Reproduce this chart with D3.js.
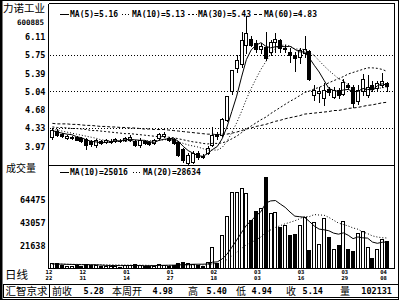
<!DOCTYPE html>
<html>
<head>
<meta charset="utf-8">
<script src="https://cdn.jsdelivr.net/npm/d3@7"></script>
<style>
  body { margin: 0; background: #fff; }
  svg { display: block; }
</style>
</head>
<body>
<div id="chart"></div>
<script>

// trading days shown on the daily chart
var dates = ['12/22','12/23','12/24','12/27','12/28','12/29','12/30','12/31',
	'01/04','01/05','01/06','01/07','01/10','01/11','01/12','01/13','01/14','01/17','01/18','01/19',
	'01/20','01/21','01/24','01/25','01/26','01/27','01/28','01/31',
	'02/01','02/02','02/03','02/04','02/16','02/17','02/18','02/21','02/22','02/23','02/24','02/25','02/28',
	'03/01','03/02','03/03','03/04','03/07','03/08','03/09','03/10','03/11','03/14','03/15','03/16','03/17',
	'03/18','03/21','03/22','03/23','03/24','03/25','03/28','03/29','03/30','03/31',
	'04/01','04/04','04/05','04/06','04/07','04/08'];

var dateLabels = ['12/22','12/31','01/14','01/27','02/18','03/03','03/16','03/29','04/08'];

var opens = [4.16,4.28,4.22,4.14,4.13,4.16,4.13,4.11,4.07,3.99,
	4.08,4.06,4.06,4.07,4.08,4.09,4.10,4.07,4.00,4.08,
	4.06,4.03,4.14,4.17,4.13,4.11,4.06,3.92,3.64,3.67,
	3.84,3.78,3.85,3.99,4.22,4.20,4.49,5.04,5.50,5.58,
	5.94,6.07,5.98,5.86,5.91,5.81,6.01,6.04,5.86,5.81,
	5.75,5.72,5.78,5.83,4.97,5.01,4.91,5.08,4.94,5.07,
	5.00,5.17,5.13,4.85,5.04,4.98,5.16,5.10,5.17,5.20];

var highs = [4.33,4.31,4.24,4.19,4.18,4.18,4.15,4.13,4.09,4.12,
	4.10,4.12,4.11,4.13,4.11,4.16,4.19,4.09,4.14,4.10,
	4.08,4.11,4.24,4.25,4.16,4.13,4.08,3.94,3.84,3.88,
	3.88,3.82,3.98,4.35,4.26,4.53,4.95,5.45,5.75,6.20,
	6.51,6.11,6.05,5.98,6.20,6.04,6.18,6.07,5.95,5.88,
	5.81,5.88,6.11,5.85,5.17,5.13,5.20,5.12,5.13,5.10,
	5.28,5.20,5.16,5.16,5.38,5.36,5.24,5.25,5.40,5.23];

var lows = [4.12,4.17,4.15,4.12,4.11,4.09,4.06,3.92,3.97,3.96,
	4.02,4.04,4.04,4.05,4.05,4.07,4.08,3.97,3.96,4.02,
	3.99,4.01,4.12,4.15,4.08,4.01,3.78,3.67,3.62,3.64,
	3.73,3.75,3.83,3.97,4.12,4.18,4.47,5.00,5.42,5.52,
	5.78,5.92,5.80,5.78,5.65,5.75,5.80,5.81,5.80,5.61,
	5.43,5.59,5.72,5.27,4.87,4.84,4.78,4.98,4.91,4.92,
	4.97,5.08,4.74,4.80,4.98,4.94,5.05,5.07,5.12,5.04];

var closes = [4.29,4.19,4.17,4.17,4.16,4.10,4.08,3.99,4.02,4.09,
	4.04,4.10,4.07,4.11,4.08,4.14,4.16,3.99,4.10,4.04,
	4.01,4.09,4.21,4.21,4.10,4.03,3.80,3.71,3.80,3.85,
	3.77,3.77,3.95,4.19,4.17,4.50,4.95,5.45,5.66,6.05,
	6.17,5.94,5.86,5.92,5.70,6.01,6.07,5.88,5.88,5.75,
	5.70,5.85,5.86,5.28,5.07,5.04,5.07,5.03,5.07,4.97,
	5.22,5.12,4.81,5.07,5.28,5.12,5.09,5.20,5.25,5.14];

var volumes = [5200,4800,3100,2600,2200,3000,2800,4100,3600,3300,
	2500,2100,1900,2400,1800,2900,3400,3800,3500,2300,
	2600,2400,3900,3200,2700,3400,5600,6300,5100,4400,
	3300,2500,5800,20200,5200,31500,49300,72100,71800,75600,
	71200,45500,54300,56800,85900,52100,53000,39200,40800,31500,
	32400,40400,48740,17400,43500,23000,47000,29900,18300,21880,
	44400,18300,16630,33500,35200,20200,10100,18300,27731,25800];

var ma5 = [4.28,4.25,4.23,4.21,4.20,4.16,4.14,4.10,4.07,4.06,
	4.04,4.05,4.06,4.08,4.08,4.10,4.11,4.10,4.09,4.09,
	4.06,4.05,4.09,4.11,4.12,4.13,4.07,3.97,3.89,3.84,
	3.79,3.78,3.83,3.91,3.97,4.12,4.35,4.65,4.95,5.32,
	5.66,5.85,5.94,5.99,5.92,5.89,5.91,5.92,5.91,5.92,
	5.86,5.81,5.81,5.69,5.55,5.42,5.26,5.10,5.06,5.04,
	5.07,5.08,5.04,5.04,5.10,5.08,5.07,5.15,5.19,5.16];

var ma10 = [4.30,4.29,4.27,4.25,4.23,4.21,4.19,4.17,4.15,4.13,
	4.10,4.09,4.08,4.08,4.07,4.07,4.08,4.08,4.09,4.08,
	4.08,4.08,4.09,4.10,4.11,4.09,4.06,4.03,4.00,3.98,
	3.96,3.93,3.90,3.90,3.90,3.95,4.07,4.24,4.43,4.65,
	4.89,5.10,5.29,5.47,5.62,5.77,5.88,5.93,5.95,5.92,
	5.87,5.86,5.86,5.80,5.74,5.64,5.54,5.45,5.37,5.29,
	5.25,5.17,5.07,5.05,5.07,5.08,5.08,5.10,5.11,5.13];

var ma30 = [4.35,4.34,4.34,4.33,4.32,4.32,4.31,4.30,4.28,4.28,
	4.27,4.26,4.25,4.24,4.23,4.22,4.22,4.21,4.20,4.19,
	4.18,4.17,4.16,4.16,4.15,4.14,4.12,4.10,4.08,4.06,
	4.05,4.03,4.02,4.03,4.03,4.04,4.07,4.12,4.17,4.24,
	4.31,4.37,4.43,4.49,4.54,4.61,4.67,4.73,4.79,4.85,
	4.90,4.96,5.02,5.05,5.09,5.12,5.16,5.21,5.25,5.29,
	5.33,5.38,5.41,5.44,5.47,5.50,5.50,5.49,5.47,5.43];

var ma60 = [4.42,4.41,4.41,4.41,4.40,4.40,4.39,4.38,4.38,4.37,
	4.36,4.36,4.35,4.35,4.34,4.34,4.33,4.33,4.32,4.31,
	4.31,4.30,4.30,4.30,4.29,4.28,4.27,4.26,4.25,4.24,
	4.23,4.22,4.21,4.21,4.20,4.21,4.21,4.23,4.25,4.28,
	4.31,4.33,4.36,4.38,4.40,4.43,4.46,4.48,4.51,4.53,
	4.55,4.57,4.60,4.61,4.62,4.63,4.64,4.65,4.67,4.67,
	4.69,4.71,4.72,4.73,4.75,4.77,4.78,4.80,4.82,4.83];

var volMa10 = [4300,4200,4100,3900,3800,3700,3600,3600,3500,3470,
	3200,2930,2810,2790,2750,2740,2800,2770,2760,2660,
	2670,2700,2900,2980,3070,3120,3340,3590,3750,3960,
	4030,4040,4230,5930,6180,8990,13360,19940,26610,33730,
	40520,44820,49670,53330,61400,63460,63830,60540,57440,53030,
	49150,48640,48080,44140,39900,36990,36390,35460,33210,32250,
	33450,31240,28030,29640,28810,28530,24840,23680,24620,25016];

var volMa20 = [4200,4150,4100,4000,3950,3900,3800,3750,3700,3650,
	3550,3500,3450,3400,3350,3300,3250,3200,3120,3065,
	2935,2815,2855,2885,2910,2930,3070,3180,3255,3310,
	3350,3370,3565,4455,4625,6055,8350,11765,15180,18845,
	22275,24430,26950,29630,33790,36225,38595,40240,42025,43380,
	44835,46730,48877,48737,50652,50227,50112,48002,45327,42641,
	41301,39941,38058,36893,34358,32763,30618,29573,28919,28634];

var priceTicks = [3.97, 4.33, 4.68, 5.04, 5.39, 5.75, 6.11];
var priceGrid = [4.33, 5.04, 5.75];
var volumeTicks = [21638, 43057, 64475];

var priceLegend = [
	{ text: 'MA(5)=5.16',  dash: null,  x: 60 },
	{ text: 'MA(10)=5.13', dash: '1,2', x: 122 },
	{ text: 'MA(30)=5.43', dash: '2,2', x: 188 },
	{ text: 'MA(60)=4.83', dash: '3,2', x: 254 }
];
var volumeLegend = [
	{ text: 'MA(10)=25016', dash: null,  x: 60 },
	{ text: 'MA(20)=28634', dash: '1,2', x: 133 }
];

var footer = [
	{ text: '前收',   x: 52,  anchor: 'start', cjk: true },
	{ text: '5.28',   x: 104, anchor: 'end' },
	{ text: '本周开', x: 112, anchor: 'start', cjk: true },
	{ text: '4.98',   x: 173, anchor: 'end' },
	{ text: '高',     x: 188, anchor: 'start', cjk: true },
	{ text: '5.40',   x: 227, anchor: 'end' },
	{ text: '低',     x: 236, anchor: 'start', cjk: true },
	{ text: '4.94',   x: 272, anchor: 'end' },
	{ text: '收',     x: 286, anchor: 'start', cjk: true },
	{ text: '5.14',   x: 323, anchor: 'end' },
	{ text: '量',     x: 340, anchor: 'start', cjk: true },
	{ text: '102131', x: 392, anchor: 'end' }
];


var width = 400, height = 300;
var left = 48.5, right = 394.5;
var priceTop = 3.5, priceBottom = 165.5, volBottom = 268.5;
var mono = '"DejaVu Sans Mono", monospace';
var cjk = '"Noto Sans CJK SC", sans-serif';

var svg = d3.select('#chart')
	.append('svg')
	.attr('width', width)
	.attr('height', height);

var x = d3.scalePoint()
	.domain(dates)
	.range([52.4, 387]);

var yPrice = d3.scaleLinear()
	.domain([3.61, 6.742])
	.range([165, 4]);

var yVol = d3.scaleLinear()
	.domain([0, 97200])
	.range([268.5, 165]);

var px = function (d) { return Math.round(x(d)); };

// frame
svg.append('rect')
	.attr('x', 0).attr('y', 0)
	.attr('width', 2.5).attr('height', height)
	.attr('fill', '#000');

var frame = [
	[0, 0.5, 399, 0.5],
	[398.5, 0, 398.5, 300],
	[0, 299.5, 399, 299.5],
	[left, priceTop, right, priceTop],
	[left, priceTop, left, volBottom],
	[right, priceTop, right, volBottom],
	[left, priceBottom, right, priceBottom],
	[left, volBottom, right, volBottom],
	[3, 284.5, 398.5, 284.5],
	[3, 297.5, 398.5, 297.5],
	[3.5, 284.5, 3.5, 297.5],
	[49.5, 284.5, 49.5, 297.5]
];

svg.append('g')
	.selectAll('line')
	.data(frame)
	.join('line')
	.attr('x1', function (d) { return d[0]; })
	.attr('y1', function (d) { return d[1]; })
	.attr('x2', function (d) { return d[2]; })
	.attr('y2', function (d) { return d[3]; })
	.attr('stroke', '#000')
	.attr('stroke-width', 1)
	.attr('shape-rendering', 'crispEdges');

// price grid
svg.append('g')
	.selectAll('line')
	.data(priceGrid)
	.join('line')
	.attr('x1', left + 1)
	.attr('x2', right - 1)
	.attr('y1', function (d) { return Math.round(yPrice(d)) + 0.5; })
	.attr('y2', function (d) { return Math.round(yPrice(d)) + 0.5; })
	.attr('stroke', '#000')
	.attr('stroke-dasharray', '1,2')
	.attr('shape-rendering', 'crispEdges');

// price axis labels
var priceAxis = d3.axisLeft(yPrice)
	.tickValues(priceTicks)
	.tickSize(0)
	.tickPadding(3)
	.tickFormat(d3.format('.2f'));

svg.append('g')
	.attr('transform', 'translate(' + left + ',0)')
	.call(priceAxis)
	.call(function (g) { g.select('.domain').remove(); })
	.selectAll('text')
	.attr('font-family', mono)
	.attr('font-weight', 'bold')
	.attr('font-size', '8.5px')
	.attr('fill', '#000');

// volume axis labels
var volAxis = d3.axisLeft(yVol)
	.tickValues(volumeTicks)
	.tickSize(0)
	.tickPadding(3)
	.tickFormat(d3.format('d'));

svg.append('g')
	.attr('transform', 'translate(' + left + ',0)')
	.call(volAxis)
	.call(function (g) { g.select('.domain').remove(); })
	.selectAll('text')
	.attr('font-family', mono)
	.attr('font-weight', 'bold')
	.attr('font-size', '8.5px')
	.attr('fill', '#000');

// clip areas
var defs = svg.append('defs');
defs.append('clipPath').attr('id', 'clip-price')
	.append('rect')
	.attr('x', left + 0.5).attr('y', priceTop + 0.5)
	.attr('width', right - left - 1).attr('height', priceBottom - priceTop - 1);
defs.append('clipPath').attr('id', 'clip-vol')
	.append('rect')
	.attr('x', left + 0.5).attr('y', priceBottom + 0.5)
	.attr('width', right - left - 1).attr('height', volBottom - priceBottom - 1);

var pricePanel = svg.append('g').attr('clip-path', 'url(#clip-price)');
var volPanel = svg.append('g').attr('clip-path', 'url(#clip-vol)');

// candles
var candles = pricePanel.append('g')
	.selectAll('g')
	.data(dates)
	.join('g');

candles.append('line')
	.attr('x1', function (d) { return px(d) + 0.5; })
	.attr('x2', function (d) { return px(d) + 0.5; })
	.attr('y1', function (d, i) { return Math.round(yPrice(highs[i])); })
	.attr('y2', function (d, i) { return Math.round(yPrice(lows[i])) + 1; })
	.attr('stroke', '#000')
	.attr('shape-rendering', 'crispEdges');

candles.append('rect')
	.attr('x', function (d) { return px(d) - 1.5; })
	.attr('y', function (d, i) { return Math.round(yPrice(Math.max(opens[i], closes[i]))) + 0.5; })
	.attr('width', 3)
	.attr('height', function (d, i) {
		var h = Math.round(yPrice(Math.min(opens[i], closes[i]))) - Math.round(yPrice(Math.max(opens[i], closes[i])));
		return Math.max(h, 0.01);
	})
	.attr('fill', function (d, i) { return closes[i] >= opens[i] ? '#fff' : '#000'; })
	.attr('stroke', '#000')
	.attr('shape-rendering', 'crispEdges');

// moving averages
var priceLine = function (values) {
	return d3.line()
		.x(function (d, i) { return x(dates[i]); })
		.y(function (d) { return yPrice(d); })(values);
};

var maSeries = [
	{ values: ma60, dash: '3,2' },
	{ values: ma30, dash: '2,2' },
	{ values: ma10, dash: '1,2' },
	{ values: ma5,  dash: null }
];

pricePanel.append('g')
	.selectAll('path')
	.data(maSeries)
	.join('path')
	.attr('d', function (d) { return priceLine(d.values); })
	.attr('fill', 'none')
	.attr('stroke', '#000')
	.attr('stroke-width', 1)
	.attr('stroke-dasharray', function (d) { return d.dash; });

// volume bars
volPanel.append('g')
	.selectAll('rect')
	.data(dates)
	.join('rect')
	.attr('x', function (d) { return px(d) - 1.5; })
	.attr('y', function (d, i) { return Math.round(yVol(volumes[i])) + 0.5; })
	.attr('width', 3)
	.attr('height', function (d, i) { return Math.max(volBottom - Math.round(yVol(volumes[i])) - 0.5, 0.5); })
	.attr('fill', function (d, i) { return closes[i] >= opens[i] ? '#fff' : '#000'; })
	.attr('stroke', '#000')
	.attr('shape-rendering', 'crispEdges');

var volLine = function (values) {
	return d3.line()
		.x(function (d, i) { return x(dates[i]); })
		.y(function (d) { return yVol(d); })(values);
};

volPanel.append('g')
	.selectAll('path')
	.data([{ values: volMa20, dash: '1,2' }, { values: volMa10, dash: null }])
	.join('path')
	.attr('d', function (d) { return volLine(d.values); })
	.attr('fill', 'none')
	.attr('stroke', '#000')
	.attr('stroke-width', 1)
	.attr('stroke-dasharray', function (d) { return d.dash; });

// legends
var drawLegend = function (items, y) {
	var g = svg.append('g');
	items.forEach(function (item) {
		g.append('line')
			.attr('x1', item.x).attr('x2', item.x + 9)
			.attr('y1', y + 0.5).attr('y2', y + 0.5)
			.attr('stroke', '#000')
			.attr('stroke-dasharray', item.dash)
			.attr('shape-rendering', 'crispEdges');
		g.append('text')
			.attr('x', item.x + 10)
			.attr('y', y)
			.attr('dy', '0.35em')
			.attr('font-family', mono)
			.attr('font-weight', 'bold')
			.attr('font-size', '8px')
			.attr('fill', '#000')
			.text(item.text);
	});
};
drawLegend(priceLegend, 14);
drawLegend(volumeLegend, 172);

// titles
svg.append('text')
	.attr('x', 3).attr('y', 8)
	.attr('dy', '0.35em')
	.attr('font-family', cjk)
	.attr('font-size', '10.5px')
	.attr('fill', '#000')
	.text('力诺工业');

svg.append('text')
	.attr('x', 44).attr('y', 22.5)
	.attr('dy', '0.35em')
	.attr('text-anchor', 'end')
	.attr('font-family', mono)
	.attr('font-weight', 'bold')
	.attr('font-size', '7.5px')
	.attr('fill', '#000')
	.text('600885');

svg.append('text')
	.attr('x', 6).attr('y', 168)
	.attr('dy', '0.35em')
	.attr('font-family', cjk)
	.attr('font-size', '10px')
	.attr('fill', '#000')
	.text('成交量');

svg.append('text')
	.attr('x', 5).attr('y', 275)
	.attr('dy', '0.35em')
	.attr('font-family', cjk)
	.attr('font-size', '11.5px')
	.attr('fill', '#000')
	.text('日线');

// date labels, month over day
var dateG = svg.append('g')
	.selectAll('g')
	.data(dateLabels)
	.join('g')
	.attr('transform', function (d) { return 'translate(' + (x(d) - 3.5) + ',0)'; });

dateG.append('text')
	.attr('y', 271.8)
	.attr('dy', '0.35em')
	.text(function (d) { return d.split('/')[0]; });
dateG.append('text')
	.attr('y', 278)
	.attr('dy', '0.35em')
	.text(function (d) { return d.split('/')[1]; });

dateG.selectAll('text')
	.attr('text-anchor', 'middle')
	.attr('font-family', mono)
	.attr('font-weight', 'bold')
	.attr('font-size', '5.5px')
	.attr('fill', '#000');

// status bar
svg.append('text')
	.attr('x', 26.5).attr('y', 291)
	.attr('dy', '0.35em')
	.attr('text-anchor', 'middle')
	.attr('font-family', cjk)
	.attr('font-size', '10.5px')
	.attr('fill', '#000')
	.text('汇智京求');

svg.append('g')
	.selectAll('text')
	.data(footer)
	.join('text')
	.attr('x', function (d) { return d.x; })
	.attr('y', 291)
	.attr('dy', '0.35em')
	.attr('text-anchor', function (d) { return d.anchor; })
	.attr('font-family', function (d) { return d.cjk ? cjk : mono; })
	.attr('font-weight', function (d) { return d.cjk ? 'normal' : 'bold'; })
	.attr('font-size', function (d) { return d.cjk ? '10px' : '8.5px'; })
	.attr('fill', '#000')
	.text(function (d) { return d.text; });

</script>
</body>
</html>
